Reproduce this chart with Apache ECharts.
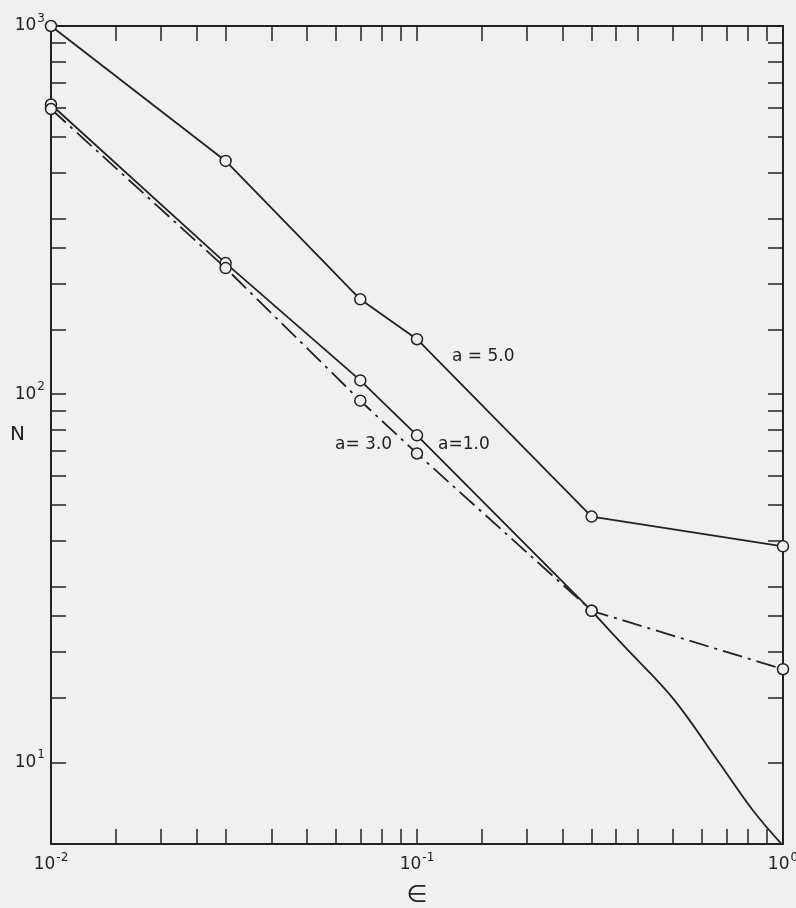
<!DOCTYPE html>
<html>
<head>
<meta charset="utf-8">
<script src="https://cdn.jsdelivr.net/npm/echarts@6/dist/echarts.min.js"></script>
<style>
  html, body { margin: 0; padding: 0; background: #f0f0f0; }
  #main { width: 796px; height: 908px; }
</style>
</head>
<body>
<div id="main"></div>
<script>
// N against epsilon, log-log, three values of a
var eps = [0.01, 0.03, 0.07, 0.1, 0.3, 1];
var a5 = [1000, 430, 181, 141, 46.5, 38.6];
var a1 = [612, 227, 109, 77.3, 25.8];
// a = 1.0 bends between 0.3 and 1
var a1Curve = [[0.3, 25.8], [0.366, 20.8], [0.501, 14.9], [0.673, 9.9], [0.829, 7.39], [1, 5.94]];
var a3 = [595, 220, 96, 69, 25.8, 17.9];

var xTicks = [0.01, 0.015, 0.02, 0.025, 0.03, 0.04, 0.05, 0.06, 0.07, 0.08, 0.09,
  0.1, 0.15, 0.2, 0.25, 0.3, 0.35, 0.4, 0.5, 0.6, 0.7, 0.8, 0.9, 1];
var yTicks = [10, 15, 20, 25, 30, 40, 50, 60, 70, 80, 90,
  100, 150, 200, 250, 300, 400, 500, 600, 700, 800, 900, 1000];
var xLabels = [0.01, 0.1, 1];
var yLabels = [10, 100, 1000];

var ink = '#222';
var font = 'DejaVu Sans';

function pairs(xs, ys) {
  var out = [];
  for (var i = 0; i < ys.length; i++) out.push([xs[i], ys[i]]);
  return out;
}
function powLabel(v) {
  return '{b|10}{s|' + Math.round(Math.log10(v)) + '}';
}
var rich = {
  b: { fontSize: 17, fontFamily: font, color: ink },
  s: { fontSize: 12, fontFamily: font, color: ink, padding: [0, 0, 14, 1] }
};

var tick = { show: true, inside: true, length: 15, lineStyle: { color: ink, width: 1.5 } };
function xAx(pos, labels) {
  return {
    type: 'log', min: 0.01, max: 1, position: pos, logBase: 10,
    axisLine: { show: true, onZero: false, lineStyle: { color: ink, width: 2 } },
    axisTick: Object.assign({ customValues: xTicks }, tick),
    axisLabel: labels ? { customValues: xLabels, formatter: powLabel, rich: rich, margin: 8 } : { show: false },
    splitLine: { show: false },
    name: labels ? '\u2208' : '', nameLocation: 'middle', nameGap: 40, nameMoveOverlap: false,
    nameTextStyle: { fontSize: 24, fontFamily: font, color: ink }
  };
}
function yAx(pos, labels) {
  return {
    type: 'log', min: 6, max: 1000, position: pos, logBase: 10,
    axisLine: { show: true, onZero: false, lineStyle: { color: ink, width: 2 } },
    axisTick: Object.assign({ customValues: yTicks }, tick),
    axisLabel: labels ? { customValues: yLabels, formatter: powLabel, rich: rich, margin: 6 } : { show: false },
    splitLine: { show: false },
    name: labels ? 'N' : '', nameLocation: 'middle', nameGap: 26, nameRotate: 0, nameMoveOverlap: false,
    nameTextStyle: { fontSize: 20, fontFamily: font, color: ink }
  };
}

var sym = { symbol: 'circle', symbolSize: 11, itemStyle: { color: '#f0f0f0', borderColor: ink, borderWidth: 1.5 } };
function line(data, type, extra) {
  return Object.assign({
    type: 'line', data: data, showSymbol: true, z: 3,
    lineStyle: { color: ink, width: 1.8, type: type },
    emphasis: { disabled: true }
  }, sym, extra || {});
}

var chart = echarts.init(document.getElementById('main'));
chart.setOption({
  backgroundColor: '#f0f0f0',
  animation: false,
  grid: { left: 51, right: 13, top: 26, bottom: 64, outerBoundsMode: 'none', containLabel: false },
  xAxis: [xAx('bottom', true), xAx('top', false)],
  yAxis: [yAx('left', true), yAx('right', false)],
  series: [
    line(pairs(eps, a5), 'solid'),
    line(pairs(eps, a1), 'solid'),
    line(a1Curve, 'solid', {
      smooth: 0.35, z: 2,
      symbol: function (v) { return v[0] === 1 ? 'circle' : 'none'; }
    }),
    line(pairs(eps, a3), [20, 6, 3, 6])
  ],
  graphic: [
    { type: 'text', left: 452, top: 348, style: { text: 'a = 5.0', fontSize: 17, fontFamily: font, fill: ink } },
    { type: 'text', left: 335, top: 436, style: { text: 'a= 3.0', fontSize: 17, fontFamily: font, fill: ink } },
    { type: 'text', left: 438, top: 436, style: { text: 'a=1.0', fontSize: 17, fontFamily: font, fill: ink } }
  ]
});
</script>
</body>
</html>
